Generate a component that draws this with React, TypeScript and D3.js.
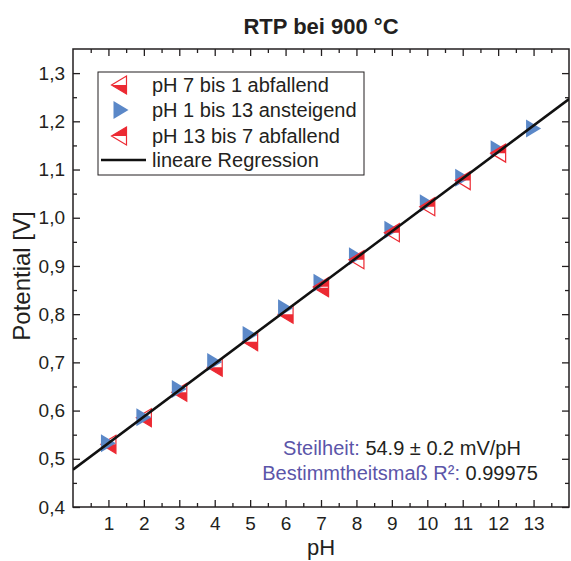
import React, { useEffect, useRef } from "react";
import * as d3 from "d3";

const phDown1 = [7, 6, 5, 4, 3, 2, 1];
const potDown1 = [0.855, 0.8, 0.743, 0.69, 0.638, 0.585, 0.53];

const phUp = [1, 2, 3, 4, 5, 6, 7, 8, 9, 10, 11, 12, 13];
const potUp = [0.532, 0.586, 0.645, 0.701, 0.757, 0.812, 0.865, 0.92, 0.975, 1.03, 1.083, 1.142, 1.185];

const phDown2 = [12, 11, 10, 9, 8, 7];
const potDown2 = [1.134, 1.077, 1.023, 0.969, 0.913, 0.857];

const slope = 0.0549;
const intercept = 0.4775;

const legendLabels = ["pH 7 bis 1 abfallend", "pH 1 bis 13 ansteigend", "pH 13 bis 7 abfallend", "lineare Regression"];
const yTicks = [0.4, 0.5, 0.6, 0.7, 0.8, 0.9, 1.0, 1.1, 1.2, 1.3];
const xTicks = [1, 2, 3, 4, 5, 6, 7, 8, 9, 10, 11, 12, 13];

const RED = "#ec2a33";
const BLUE = "#5b88c8";
const PURPLE = "#5b55a9";
const INK = "#231f20";

function App() {
    const ref = useRef<SVGSVGElement | null>(null);

    useEffect(() => {
        document.body.style.margin = "0";
        const width = 571;
        const height = 561;
        const margin = { top: 49, right: 2, bottom: 54, left: 73 };

        const svg = d3.select(ref.current);
        svg.selectAll("*").remove();
        svg.attr("width", width).attr("height", height);

        const x = d3.scaleLinear().domain([0, 14]).range([margin.left, width - margin.right]);
        const y = d3.scaleLinear().domain([0.4, 1.35]).range([height - margin.bottom, margin.top]);
        const font = "'Liberation Sans', Arial, sans-serif";

        // title
        svg.append("text")
            .attr("x", 321).attr("y", 34)
            .attr("text-anchor", "middle")
            .style("font", `bold 22px ${font}`)
            .style("fill", INK)
            .text("RTP bei 900 °C");

        svg.append("defs").append("clipPath").attr("id", "plot-clip")
            .append("rect")
            .attr("x", x(0)).attr("y", y(1.35))
            .attr("width", x(14) - x(0)).attr("height", y(0.4) - y(1.35));

        // axes: ticks on all four sides, pointing inward
        const xMinor = d3.range(0.5, 14, 1);
        const yMinor = d3.range(0.45, 1.35, 0.1);
        const styleAxis = (g: any) => {
            g.select(".domain").remove();
            g.selectAll("line").attr("stroke", INK).attr("stroke-width", 1.3);
            g.selectAll("text").style("font", `19px ${font}`).style("fill", INK);
        };

        const bottomY = y(0.4);
        const topY = y(1.35);
        const leftX = x(0);
        const rightX = x(14);

        svg.append("g").attr("transform", `translate(0,${bottomY})`)
            .call(d3.axisBottom(x).tickValues(xTicks).tickSize(-7).tickPadding(10).tickFormat(d3.format("d")) as any)
            .call(styleAxis);
        svg.append("g").attr("transform", `translate(0,${bottomY})`)
            .call(d3.axisBottom(x).tickValues(xMinor).tickSize(-4).tickFormat(() => "") as any)
            .call(styleAxis);
        svg.append("g").attr("transform", `translate(0,${topY})`)
            .call(d3.axisTop(x).tickValues(xTicks).tickSize(-7).tickFormat(() => "") as any)
            .call(styleAxis);
        svg.append("g").attr("transform", `translate(0,${topY})`)
            .call(d3.axisTop(x).tickValues(xMinor).tickSize(-4).tickFormat(() => "") as any)
            .call(styleAxis);

        const commaFmt = (d: any) => d3.format(".1f")(d).replace(".", ",");
        svg.append("g").attr("transform", `translate(${leftX},0)`)
            .call(d3.axisLeft(y).tickValues(yTicks).tickSize(-7).tickPadding(8).tickFormat(commaFmt) as any)
            .call(styleAxis);
        svg.append("g").attr("transform", `translate(${leftX},0)`)
            .call(d3.axisLeft(y).tickValues(yMinor).tickSize(-4).tickFormat(() => "") as any)
            .call(styleAxis);
        svg.append("g").attr("transform", `translate(${rightX},0)`)
            .call(d3.axisRight(y).tickValues(yTicks).tickSize(-7).tickFormat(() => "") as any)
            .call(styleAxis);
        svg.append("g").attr("transform", `translate(${rightX},0)`)
            .call(d3.axisRight(y).tickValues(yMinor).tickSize(-4).tickFormat(() => "") as any)
            .call(styleAxis);

        // frame
        svg.append("rect")
            .attr("x", leftX).attr("y", topY)
            .attr("width", rightX - leftX).attr("height", bottomY - topY)
            .attr("fill", "none").attr("stroke", INK).attr("stroke-width", 1.5);

        // axis titles
        svg.append("text")
            .attr("x", 321).attr("y", 555)
            .attr("text-anchor", "middle")
            .style("font", `22px ${font}`).style("fill", INK)
            .text("pH");
        svg.append("text")
            .attr("transform", `translate(30,${(topY + bottomY) / 2 - 2}) rotate(-90)`)
            .attr("text-anchor", "middle")
            .style("font", `24px ${font}`).style("fill", INK)
            .text("Potential [V]");

        // markers: left triangle with half fill, right triangle filled
        const w = 7.5, h = 9;
        const leftTri = `M${-w},0L${w},${-h}L${w},${h}Z`;
        const topHalf = `M${-w},0L${w},${-h}L${w},0Z`;
        const bottomHalf = `M${-w},0L${w},0L${w},${h}Z`;
        const rightTri = `M${w},0L${-w},${-h}L${-w},${h}Z`;

        const drawHalf = (g: any, half: string) => {
            g.append("path").attr("d", half).attr("fill", RED);
            g.append("path").attr("d", leftTri).attr("fill", "none").attr("stroke", RED).attr("stroke-width", 1.2);
        };

        const plot = svg.append("g").attr("clip-path", "url(#plot-clip)");

        const line = d3.line<number>().x((d) => x(d)).y((d) => y(intercept + slope * d));

        phDown1.forEach((p, i) => {
            const g = plot.append("g").attr("transform", `translate(${x(p)},${y(potDown1[i])})`);
            drawHalf(g, bottomHalf);
        });
        phUp.forEach((p, i) => {
            plot.append("path")
                .attr("transform", `translate(${x(p)},${y(potUp[i])})`)
                .attr("d", rightTri).attr("fill", BLUE);
        });
        phDown2.forEach((p, i) => {
            const g = plot.append("g").attr("transform", `translate(${x(p)},${y(potDown2[i])})`);
            drawHalf(g, topHalf);
        });

        // regression line on top of the markers
        plot.append("path")
            .attr("d", line([0, 14]))
            .attr("fill", "none").attr("stroke", "#111").attr("stroke-width", 2.5);

        // legend
        const lg = svg.append("g");
        lg.append("rect")
            .attr("x", 98).attr("y", 72).attr("width", 266).attr("height", 103)
            .attr("fill", "white").attr("stroke", INK).attr("stroke-width", 1);
        const rowY = [85, 110, 136, 160];
        legendLabels.forEach((label, i) => {
            lg.append("text")
                .attr("x", 152).attr("y", rowY[i] + 7)
                .style("font", `20px ${font}`).style("fill", INK)
                .text(label);
        });
        drawHalf(lg.append("g").attr("transform", `translate(119,${rowY[0]})`), bottomHalf);
        lg.append("path").attr("transform", `translate(121,${rowY[1]})`).attr("d", rightTri).attr("fill", BLUE);
        drawHalf(lg.append("g").attr("transform", `translate(119,${rowY[2]})`), topHalf);
        lg.append("line")
            .attr("x1", 101).attr("x2", 146).attr("y1", rowY[3]).attr("y2", rowY[3])
            .attr("stroke", "#111").attr("stroke-width", 2.5);

        // fit annotation
        const ann = svg.append("g").style("font", `20px ${font}`);
        const t1 = ann.append("text").attr("x", 402).attr("y", 455).attr("text-anchor", "middle");
        t1.append("tspan").style("fill", PURPLE).text("Steilheit: ");
        t1.append("tspan").style("fill", INK).text("54.9 ± 0.2 mV/pH");
        const t2 = ann.append("text").attr("x", 400).attr("y", 480).attr("text-anchor", "middle");
        t2.append("tspan").style("fill", PURPLE).text("Bestimmtheitsmaß R²: ");
        t2.append("tspan").style("fill", INK).text("0.99975");
    }, []);

    return <svg ref={ref} style={{ display: "block" }} />;
}

export default App;
